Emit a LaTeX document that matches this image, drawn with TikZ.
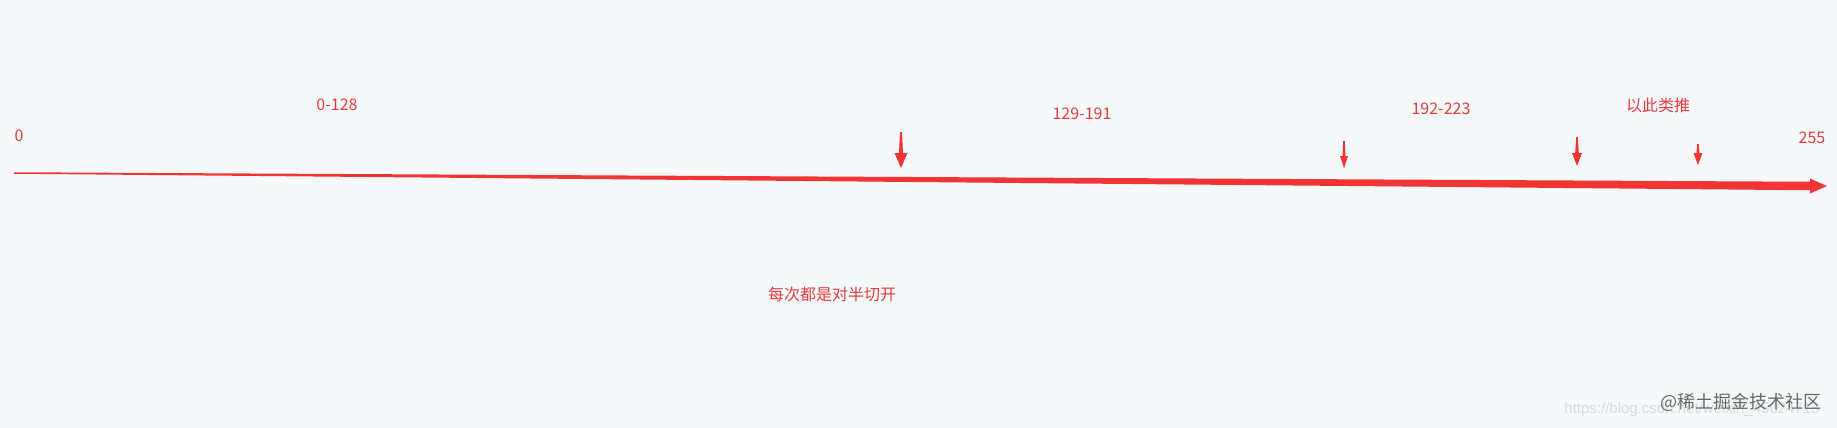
\documentclass[tikz,border=0pt]{standalone}
\usepackage{fontspec}
\setmainfont{Noto Sans CJK SC}
\newfontfamily\wmfont{Liberation Sans}
\definecolor{bgc}{RGB}{246,249,250}
\definecolor{linered}{RGB}{242,52,52}
\definecolor{txtred}{RGB}{228,60,60}
\definecolor{wmgray}{RGB}{105,105,105}
\definecolor{wmlight}{RGB}{214,219,222}
\begin{document}
\begin{tikzpicture}[x=1pt,y=-1pt,
  lbl/.style={text=txtred,font=\fontsize{16}{19}\selectfont,inner sep=0pt,anchor=center},
  redfill/.style={fill=linered,draw=none}]
\fill[bgc] (0,0) rectangle (1837,428);
\useasboundingbox (0,0) rectangle (1837,428);
% main tapered axis arrow
\fill[redfill] (14,172.25) -- (1810,181.75) -- (1810,178.5) -- (1827,186) -- (1810,193.5) -- (1810,190.25) -- (14,173.75) -- cycle;
% cut markers: x / top / stem half-width top / stem half-width bottom / head base / head half-width / tip
\foreach \x/\t/\wa/\wb/\hb/\hw/\tp in {901/132/1/2/153/6.5/168, 1344/141/0.8/1.5/156/4/168, 1577/137/0.8/1.8/153/5/166, 1698/144/0.8/1.5/153/4.5/165}{
  \fill[redfill] (\x-\wa,\t) -- (\x+\wa,\t) -- (\x+\wb,\hb) -- (\x+\hw,\hb) -- (\x,\tp) -- (\x-\hw,\hb) -- (\x-\wb,\hb) -- cycle;
}
\node[lbl] (zero) at (19,136) {0};
\node[lbl] (r1) at (337,105) {0-128};
\node[lbl] (r2) at (1082,114) {129-191};
\node[lbl] (r3) at (1441,109) {192-223};
\node[lbl] (etc) at (1658,105) {以此类推};
\node[lbl] (max) at (1812,138) {255};
\node[lbl] (half) at (832,294) {每次都是对半切开};
\node[text=wmlight,font=\wmfont\fontsize{15}{18}\selectfont,inner sep=0pt] (url) at (1692,410) {https://blog.csdn.net/weixin\_45624713};
\node[text=wmgray,font=\fontsize{18}{21}\selectfont,inner sep=0pt] (wm) at (1741,402) {@稀土掘金技术社区};
\end{tikzpicture}
\end{document}
